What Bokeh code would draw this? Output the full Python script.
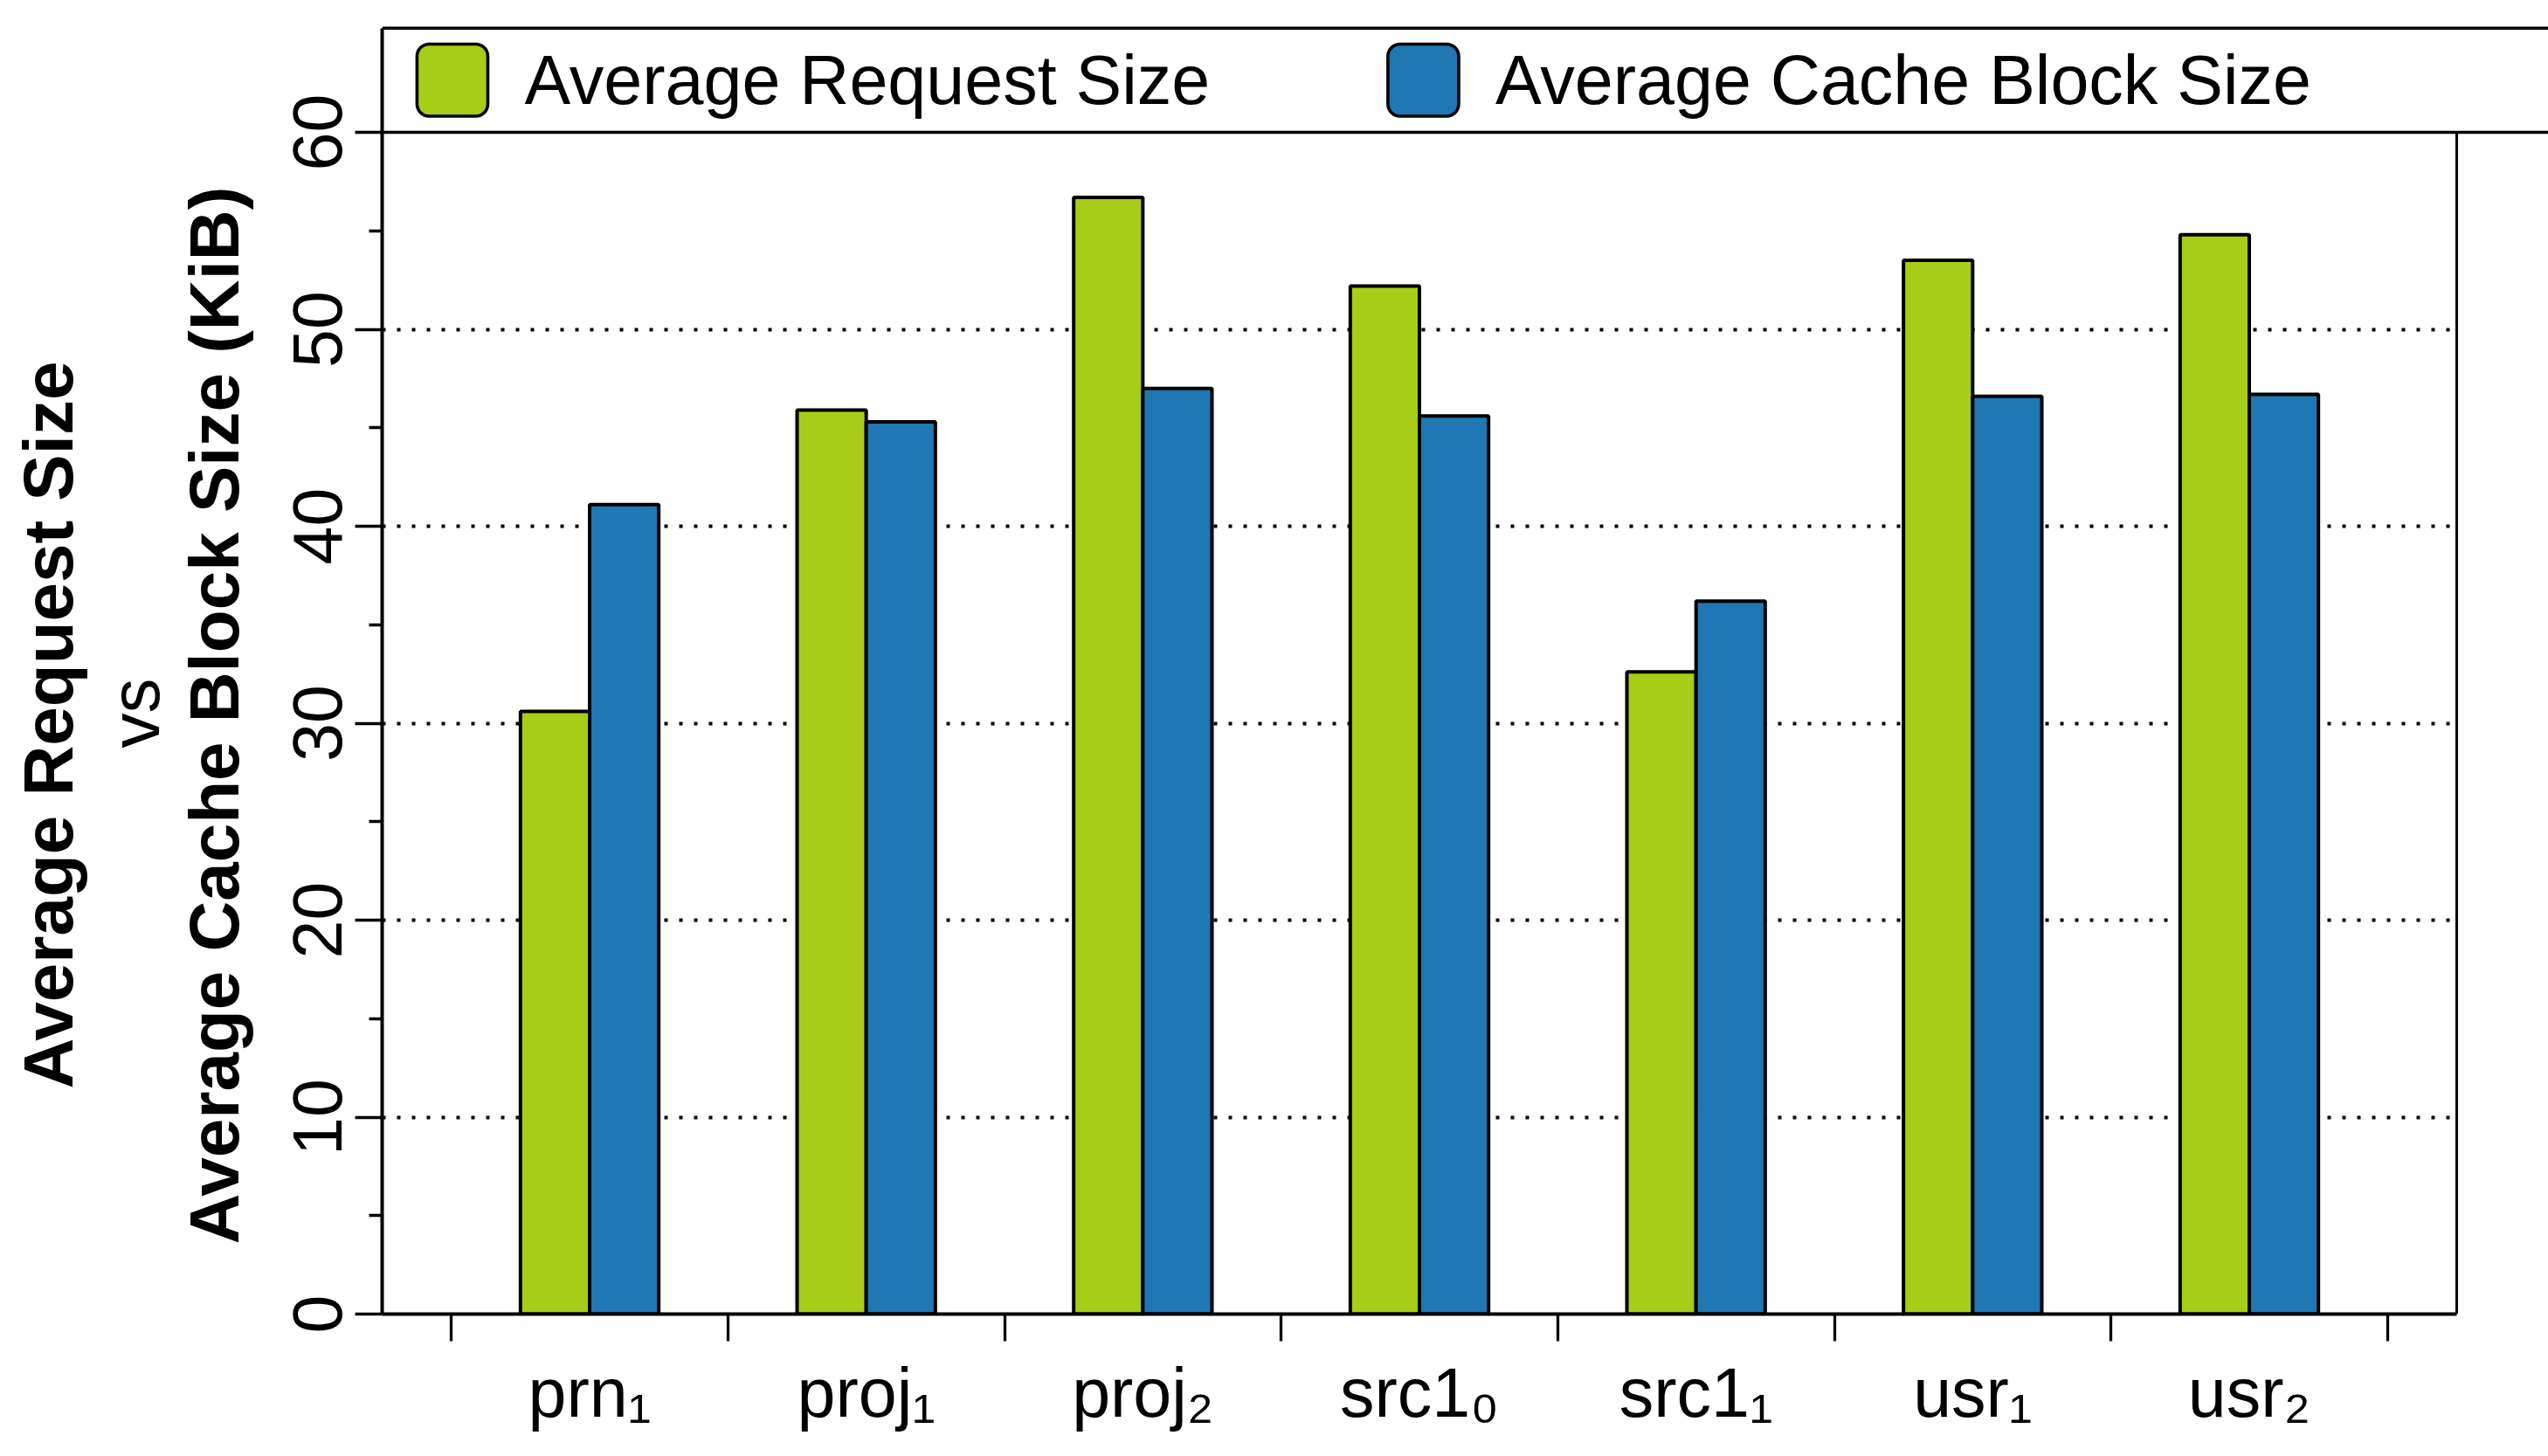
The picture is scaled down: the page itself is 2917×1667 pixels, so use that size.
import numpy as np
from bokeh.plotting import figure
from bokeh.models import Range1d, FixedTicker, Title, ColumnDataSource
from bokeh.core.properties import value
from bokeh.embed import file_html
from bokeh.resources import INLINE

# ---------------- data ----------------
workloads = ["prn", "proj", "proj", "src1", "src1", "usr", "usr"]
workload_subscripts = ["1", "1", "2", "0", "1", "1", "2"]
avg_request_size = [30.6, 45.9, 56.7, 52.2, 32.6, 53.5, 54.8]
avg_cache_block_size = [41.1, 45.3, 47.0, 45.6, 36.2, 46.6, 46.7]
series_names = ["Average Request Size", "Average Cache Block Size"]
series_colors = ["#a7cd17", "#1f77b4"]
y_ticks = [0, 10, 20, 30, 40, 50, 60]
y_minor_ticks = [5, 15, 25, 35, 45, 55]
grid_ticks = [10, 20, 30, 40, 50]
y_title_lines = ["Average Request Size", "vs", "Average Cache Block Size (KiB)"]

# ---------------- layout ----------------
W, H = 2917, 1667
FL, FB, FT = 437, 163, 28          # frame left / bottom border / top border
n = len(workloads)
x0 = -0.25
x_frame_end = n + 0.25
px_x = (2812 - FL) / (x_frame_end - x0)
x_end = x0 + (W - FL) / px_x
frame_h = H - FT - FB
px_y = (1504 - 151) / 60.0
y_end = frame_h / px_y
FONT = "Liberation Sans"

p = figure(width=W, height=H, output_backend="svg", toolbar_location=None,
           x_range=Range1d(x0, x_end), y_range=Range1d(0, y_end),
           min_border_left=FL, min_border_right=0, min_border_top=FT,
           min_border_bottom=FB)
p.outline_line_color = None
p.background_fill_color = "white"
p.border_fill_color = "white"

# grid (dotted)
p.xgrid.visible = False
p.ygrid.ticker = FixedTicker(ticks=grid_ticks)
p.ygrid.grid_line_color = "black"
p.ygrid.grid_line_width = 4
p.ygrid.grid_line_dash = "4 13"
p.ygrid.cross_bounds = (x0, x_frame_end)

# bars
idx = np.arange(n)
src = ColumnDataSource(dict(
    x_req=idx + 0.375, x_blk=idx + 0.625,
    req=avg_request_size, blk=avg_cache_block_size))
p.vbar(x="x_req", top="req", bottom=0, width=0.25, source=src,
       fill_color=series_colors[0], line_color="black", line_width=4)
p.vbar(x="x_blk", top="blk", bottom=0, width=0.25, source=src,
       fill_color=series_colors[1], line_color="black", line_width=4)

# right frame line
p.segment(x0=[x_frame_end], y0=[0], x1=[x_frame_end], y1=[60],
          line_color="black", line_width=3)

# legend box lines
legend_top = (1504 - 31.8) / px_y
p.segment(x0=[x0, x0], y0=[60, legend_top], x1=[x_end, x_end], y1=[60, legend_top],
          line_color="black", line_width=3.5)

# legend swatches + texts
sw_half = 0.128
sw_centers = [0.004, 3.514]
sw_bot = (1504 - 132.5) / px_y
sw_top = (1504 - 50) / px_y
p.quad(left=[c - sw_half for c in sw_centers], right=[c + sw_half for c in sw_centers],
       bottom=sw_bot, top=sw_top, fill_color=series_colors, line_color="black",
       line_width=3.6, border_radius=14)
p.text(x=[c + 0.261 for c in sw_centers], y=[(sw_bot + sw_top) / 2] * 2, text=series_names,
       text_font=value(FONT), text_font_size="79px", text_color="black",
       text_align="left", text_baseline="middle")

# y axis
yax = p.yaxis[0]
yax.ticker = FixedTicker(ticks=y_ticks, minor_ticks=y_minor_ticks)
yax.bounds = (0, legend_top)
yax.axis_line_width = 4
yax.axis_line_color = "black"
yax.major_tick_out = 31
yax.major_tick_in = 0
yax.minor_tick_out = 15
yax.minor_tick_in = 0
yax.major_tick_line_width = 3.5
yax.minor_tick_line_width = 3.5
yax.major_label_orientation = "vertical"
yax.major_label_text_font = FONT
yax.major_label_text_font_size = "79px"
yax.major_label_text_color = "black"
yax.major_label_standoff = 16
# blank axis label only reserves room between tick labels and the titles
yax.axis_label = " "
yax.axis_label_text_font_size = "1px"
yax.axis_label_standoff = 39

# x axis: major ticks (unmarked) at group centres carry the labels,
# minor ticks mark the group boundaries
SUBS = str.maketrans("0123456789", "₀₁₂₃₄₅₆₇₈₉")
centers = [float(i) + 0.5 for i in idx]
xax = p.xaxis[0]
xax.ticker = FixedTicker(ticks=centers, minor_ticks=list(range(n + 1)))
xax.bounds = (x0, x_frame_end)
xax.axis_line_width = 4
xax.axis_line_color = "black"
xax.major_tick_out = 0
xax.major_tick_in = 0
xax.major_tick_line_color = None
xax.minor_tick_out = 31
xax.minor_tick_in = 0
xax.minor_tick_line_width = 3.3
xax.minor_tick_line_color = "black"
xax.major_label_overrides = {c: w + s.translate(SUBS) for c, w, s in
                             zip(centers, workloads, workload_subscripts)}
xax.major_label_text_font = FONT
xax.major_label_text_font_size = "79px"
xax.major_label_text_color = "black"
xax.major_label_standoff = 14

# y axis title: three stacked titles on the left
title_style = ["bold", "normal", "bold"]
title_offset = [258, 648, 80]
title_standoff = [16, 0, 0]
for txt, st, off, so in reversed(list(zip(y_title_lines, title_style, title_offset, title_standoff))):
    p.add_layout(Title(text=txt, align="left", offset=off, standoff=so,
                       vertical_align="bottom", text_font=FONT,
                       text_font_size="80px", text_font_style=st,
                       text_color="black"), "left")

open("out.html", "w").write(file_html(p, INLINE))
